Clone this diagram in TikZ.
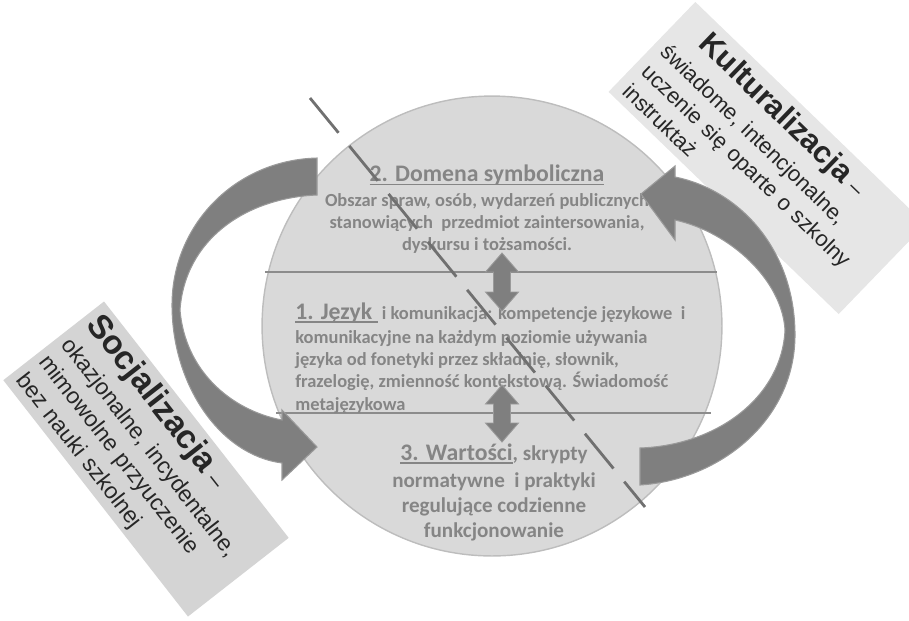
\documentclass[tikz,border=0pt]{standalone}
\usepackage{fontspec}
\setmainfont{Carlito}
\newfontfamily\arialfont{Liberation Sans}
\usetikzlibrary{positioning}

\definecolor{circfill}{HTML}{D9D9D9}
\definecolor{circline}{HTML}{BDBDBD}
\definecolor{lineclr}{HTML}{8C8C8C}
\definecolor{txtgray}{HTML}{858585}
\definecolor{arrowfill}{HTML}{7F7F7F}
\definecolor{arrowline}{HTML}{9A9A9A}
\definecolor{cutclr}{HTML}{707070}
\definecolor{kultfill}{HTML}{E6E6E6}
\definecolor{socjfill}{HTML}{D4D4D4}
\definecolor{boxtxt}{HTML}{262626}

% thick underline for the section titles
\newcommand{\podkr}[1]{\setbox0\hbox{#1}\rlap{\rule[-2.4pt]{\wd0}{1.1pt}}\box0}

\begin{document}
\begin{tikzpicture}[x=0.02cm, y=-0.02cm,
	kolo/.style={fill=circfill, draw=circline, line width=0.8pt},
	podzial/.style={draw=lineclr, line width=0.6pt},
	secttl/.style={text=txtgray, inner sep=0pt, font=\bfseries\fontsize{13.5}{16}\selectfont},
	sectxt/.style={text=txtgray, inner sep=0pt, font=\bfseries\fontsize{10.5}{12.7}\selectfont},
	wymiana/.style={fill=arrowfill, draw=arrowline, line width=0.5pt},
	ciecie/.style={draw=cutclr, line width=1.6pt, dash pattern=on 0.9cm off 0.34cm},
	ramka/.style={text=boxtxt, align=left, inner xsep=0.2cm, inner ysep=0.1cm, minimum height=2.5cm, font=\arialfont\fontsize{12.5}{15.6}\selectfont},
	luk/.style={fill=arrowfill, draw=arrowline, line width=0.6pt}]
	\useasboundingbox (0,0) rectangle (909,620);
	\def\ax{502}
	
	% circle with the three domains
	\draw[kolo] (492,326) circle (4.6cm);
	\coordinate (d1L) at (265,272);
	\coordinate (d1R) at (717,272);
	\coordinate (d2L) at (276,413);
	\coordinate (d2R) at (711,413);
	\draw[podzial] (d1L) -- (d1R);
	\draw[podzial] (d2L) -- (d2R);
	
	\node[secttl] (domTitle) at (487,175) {\podkr{2. Domena symboliczna}};
	\node[sectxt, align=center, anchor=north] (domText) at (487,193)
		{Obszar spraw, osób, wydarzeń publicznych\\ stanowiących\ \ przedmiot zaintersowania,\\ dyskursu i tożsamości.};
	\node[sectxt, align=left, anchor=north west] (jezText) at (295,302)
		{{\fontsize{13.5}{16}\selectfont\podkr{1. Język\ }} i komunikacja: kompetencje językowe\ \ i\\[1pt]
		komunikacyjne na każdym poziomie używania\\
		języka od fonetyki przez składnię, słownik,\\
		frazelogię, zmienność kontekstową. Świadomość\\
		metajęzykowa};
	\node[sectxt, align=center, anchor=north, font=\bfseries\fontsize{12}{14.2}\selectfont] (wartText) at (494,443)
		{{\fontsize{13.5}{16}\selectfont\podkr{3. Wartości}}, skrypty\\[1.5pt]
		normatywne\ \ i praktyki\\ regulujące codzienne\\ funkcjonowanie};
	
	% exchange between the domains
	\foreach \ya/\yb in {253/311, 385/442} {
		\draw[wymiana] (\ax,\ya) -- (\ax+16.5,\ya+19) -- (\ax+8.5,\ya+19) -- (\ax+8.5,\yb-19)
			-- (\ax+16.5,\yb-19) -- (\ax,\yb) -- (\ax-16.5,\yb-19) -- (\ax-8.5,\yb-19)
			-- (\ax-8.5,\ya+19) -- (\ax-16.5,\ya+19) -- cycle;
	}
	
	\coordinate (cutA) at (310,98);
	\coordinate (cutB) at (645,507);
	\draw[ciecie] (cutA) -- (cutB);
	
	% the two ways of learning
	\node[ramka, fill=kultfill, rotate=-44, text width=6cm] (kult) at (767,158)
		{\hspace*{0.44cm}{\bfseries\fontsize{17.5}{20}\selectfont Kulturalizacja} –\\[3pt]
		świadome, intencjonalne,\\ uczenie się oparte o szkolny\\ instruktaż};
	\node[ramka, fill=socjfill, rotate=-52, inner xsep=0.15cm, text width=5.7cm,
		font=\arialfont\fontsize{13}{16.2}\selectfont] (socj) at (146,459)
		{{\bfseries\fontsize{19}{21}\selectfont Socjalizacja} –\\[2pt]
		okazjonalne, incydentalne,\\ mimowolne przyuczenie\\ bez nauki szkolnej};
	
	\draw[luk] (317,158) .. controls (235,160) and (172,225) .. (172,305)
		.. controls (172,385) and (220,455) .. (282,463)
		-- (282,480) -- (317,447) -- (282,410) -- (282,420)
		.. controls (230,410) and (185,370) .. (180,310)
		.. controls (185,240) and (245,198) .. (317,195) -- cycle;
	\draw[luk] (640,485) .. controls (720,480) and (795,420) .. (795,335)
		.. controls (795,250) and (740,190) .. (675,177)
		-- (675,166) -- (641,194) -- (675,240) -- (675,220)
		.. controls (730,232) and (782,280) .. (785,330)
		.. controls (782,395) and (720,445) .. (640,448) -- cycle;
\end{tikzpicture}
\end{document}
